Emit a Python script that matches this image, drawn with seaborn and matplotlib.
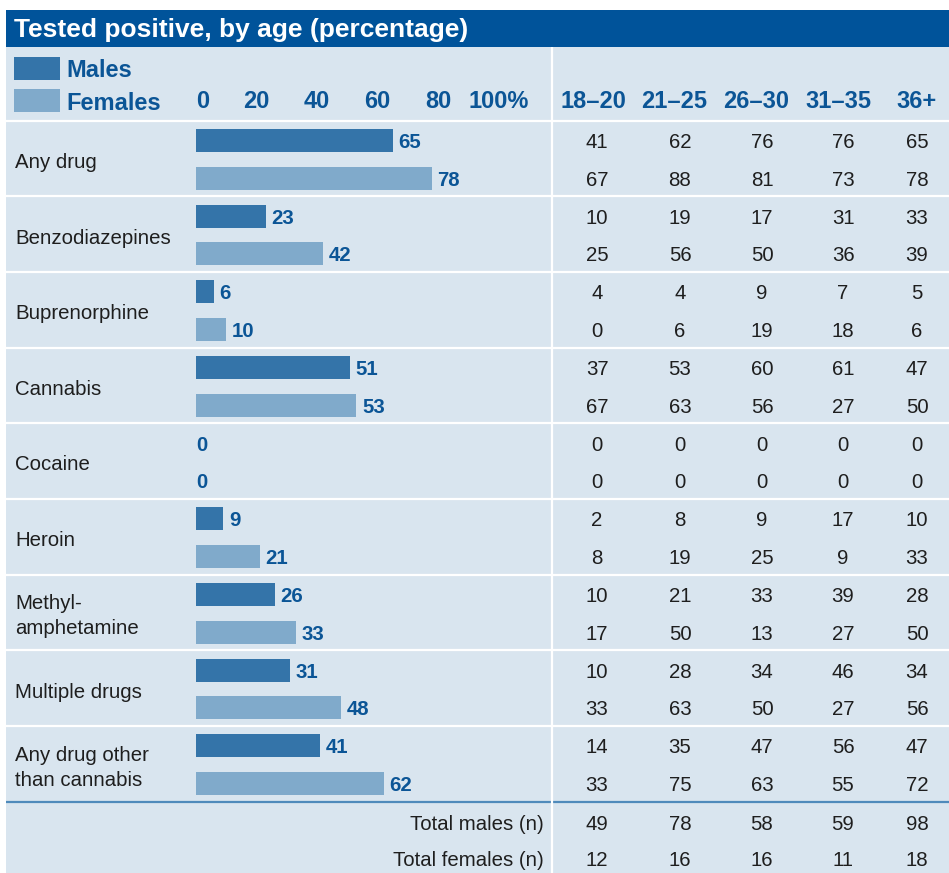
import matplotlib
matplotlib.use("Agg")
import matplotlib.pyplot as plt
import matplotlib.transforms as mtransforms
from matplotlib.patches import Rectangle
import seaborn as sns
import pandas as pd

# ---- data -------------------------------------------------------------
drugs = ["Any drug", "Benzodiazepines", "Buprenorphine", "Cannabis", "Cocaine",
         "Heroin", "Methyl-\namphetamine", "Multiple drugs",
         "Any drug other\nthan cannabis"]
males_pct = [65, 23, 6, 51, 0, 9, 26, 31, 41]
females_pct = [78, 42, 10, 53, 0, 21, 33, 48, 62]

age_groups = ["18–20", "21–25", "26–30", "31–35", "36+"]
males_by_age = [
    [41, 62, 76, 76, 65],
    [10, 19, 17, 31, 33],
    [4, 4, 9, 7, 5],
    [37, 53, 60, 61, 47],
    [0, 0, 0, 0, 0],
    [2, 8, 9, 17, 10],
    [10, 21, 33, 39, 28],
    [10, 28, 34, 46, 34],
    [14, 35, 47, 56, 47],
]
females_by_age = [
    [67, 88, 81, 73, 78],
    [25, 56, 50, 36, 39],
    [0, 6, 19, 18, 6],
    [67, 63, 56, 27, 50],
    [0, 0, 0, 0, 0],
    [8, 19, 25, 9, 33],
    [17, 50, 13, 27, 50],
    [33, 63, 50, 27, 56],
    [33, 75, 63, 55, 72],
]
total_males = [49, 78, 58, 59, 98]
total_females = [12, 16, 16, 11, 18]

scale_ticks = [0, 20, 40, 60, 80, 100]
scale_labels = ["0", "20", "40", "60", "80", "100%"]

# ---- style ------------------------------------------------------------
W, H = 949, 873
DARK = "#00539a"
PANEL = "#d9e5ef"
MALE = "#3474a9"
FEMALE = "#80aacb"
BLUE_TXT = "#0b5596"
BODY = "#1e1e1e"
RULE = "#4f8abb"
BODY_SIZE = 14.7

plt.rcParams["font.family"] = ["Liberation Sans", "DejaVu Sans"]

fig = plt.figure(figsize=(W / 100, H / 100), dpi=100)


def shift_down(px):
    """Offset transform moving text down by a number of pixels."""
    return mtransforms.ScaledTranslation(0, -px / fig.dpi, fig.dpi_scale_trans)


# pixel-space canvas for the table frame and text
bg = fig.add_axes([0, 0, 1, 1])
bg.set_xlim(0, W)
bg.set_ylim(H, 0)
bg.axis("off")

TOP, BOTTOM = 120.5, 801.5
n = len(drugs)
gh = (BOTTOM - TOP) / n
LEFT = 6
DIVIDER_X = 552

bg.add_patch(Rectangle((LEFT, 10), W - LEFT, 37, color=DARK, lw=0))
bg.add_patch(Rectangle((LEFT, 47), W - LEFT, H - 47, color=PANEL, lw=0))
bg.text(14, 30.5, "Tested positive, by age (percentage)", color="white",
        fontsize=19, fontweight="bold", ha="left", va="center")

# white rules between groups, blue rule above the totals
for k in range(n):
    bg.plot([LEFT, W], [TOP + k * gh] * 2, color="white", lw=1.6,
            solid_capstyle="butt")
bg.plot([LEFT, W], [BOTTOM] * 2, color=RULE, lw=1.6, solid_capstyle="butt")
bg.plot([DIVIDER_X] * 2, [47, H], color="white", lw=1.6, solid_capstyle="butt")

# legend
for yc, lab, col in [(68, "Males", MALE), (100.5, "Females", FEMALE)]:
    bg.add_patch(Rectangle((14, yc - 11.5), 46, 23, color=col, lw=0))
    bg.text(66, yc + 2.5, lab, color=BLUE_TXT, fontsize=17, fontweight="bold",
            ha="left", va="center")

# ---- bars -------------------------------------------------------------
bar_top, bar_bottom = TOP + 1, BOTTOM + 1
x0, x100 = 196, 498.6
ax = fig.add_axes([x0 / W, 1 - bar_bottom / H, (x100 - x0) / W,
                   (bar_bottom - bar_top) / H])
df = pd.DataFrame({
    "drug": drugs * 2,
    "sex": ["Males"] * n + ["Females"] * n,
    "pct": males_pct + females_pct,
})
sns.barplot(data=df, y="drug", x="pct", hue="sex", orient="h",
            palette={"Males": MALE, "Females": FEMALE}, saturation=1,
            width=1.0, gap=0.39, errorbar=None, legend=False, ax=ax)
ax.set_xlim(0, 100)
ax.set_ylim(n - 0.5, -0.5)
ax.set_facecolor("none")
ax.axis("off")

for cont in ax.containers:
    for patch, val in zip(cont.patches, cont.datavalues):
        yc = patch.get_y() + patch.get_height() / 2
        ax.annotate(f"{val:.0f}", (val, yc),
                    xytext=(4 if val > 0 else 0.5, -1.4),
                    textcoords="offset points",
                    ha="left", va="center", color=BLUE_TXT, fontsize=14.7,
                    fontweight="bold", annotation_clip=False)

# percentage scale in the header
scale_tr = mtransforms.blended_transform_factory(ax.transData, bg.transData)
for v, lab in zip(scale_ticks, scale_labels):
    bg.text(v, 102, lab, transform=scale_tr, color=BLUE_TXT, fontsize=17,
            fontweight="bold", ha="left" if v == 0 else "center", va="center")

# ---- table ------------------------------------------------------------
col_x = [597, 680, 762, 843, 917]
head_x = [593, 674, 756, 838, 917]
for x, lab in zip(head_x, age_groups):
    bg.text(x, 102, lab, color=BLUE_TXT, fontsize=17, fontweight="bold",
            ha="center", va="center")

row_tr = mtransforms.blended_transform_factory(bg.transData, ax.transData)
label_tr = row_tr + shift_down(3)
value_tr = row_tr + shift_down(2)
for i, name in enumerate(drugs):
    bg.text(15, i, name, transform=label_tr, color=BODY, fontsize=BODY_SIZE,
            ha="left", va="center", linespacing=1.42)
    for x, m, f in zip(col_x, males_by_age[i], females_by_age[i]):
        bg.text(x, i - 0.25, str(m), transform=value_tr, color=BODY,
                fontsize=BODY_SIZE, ha="center", va="center")
        bg.text(x, i + 0.25, str(f), transform=value_tr, color=BODY,
                fontsize=BODY_SIZE, ha="center", va="center")

bg.text(544, 824, "Total males (n)", color=BODY, fontsize=BODY_SIZE,
        ha="right", va="center")
bg.text(544, 861, "Total females (n)", color=BODY, fontsize=BODY_SIZE,
        ha="right", va="center")
for x, m, f in zip(col_x, total_males, total_females):
    bg.text(x, 824, str(m), color=BODY, fontsize=BODY_SIZE, ha="center", va="center")
    bg.text(x, 861, str(f), color=BODY, fontsize=BODY_SIZE, ha="center", va="center")

fig.savefig("out.png", dpi=100, facecolor="white")
